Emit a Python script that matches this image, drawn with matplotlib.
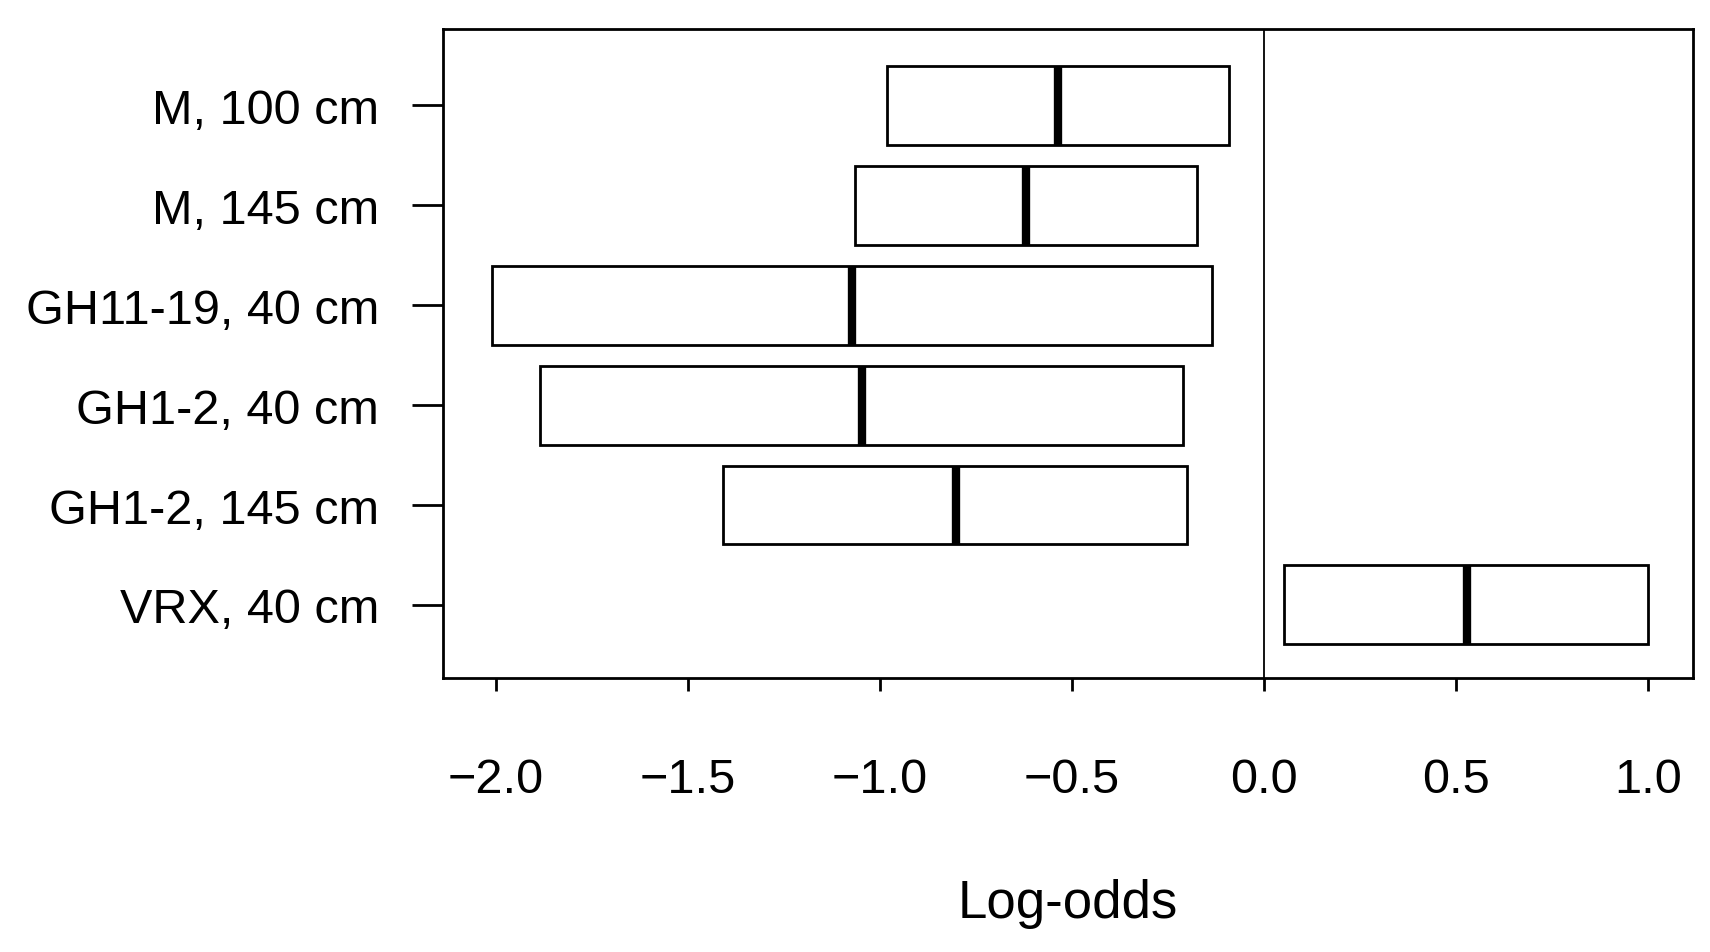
import matplotlib
matplotlib.use("Agg")
import matplotlib.pyplot as plt

plt.rcParams['font.family'] = ['Liberation Sans', 'DejaVu Sans']

labels = ["M, 100 cm", "M, 145 cm", "GH11-19, 40 cm", "GH1-2, 40 cm", "GH1-2, 145 cm", "VRX, 40 cm"]
low = [-0.981, -1.064, -2.009, -1.883, -1.407, 0.053]
mid = [-0.537, -0.620, -1.072, -1.047, -0.800, 0.528]
high = [-0.090, -0.173, -0.136, -0.211, -0.199, 1.000]
xticks = [-2.0, -1.5, -1.0, -0.5, 0.0, 0.5, 1.0]

fig = plt.figure(figsize=(17.1, 9.53), dpi=100)
ax = fig.add_axes([0.259, 0.288, 0.731, 0.68])

n = len(labels)
ypos = [n - i for i in range(n)]
h = 0.79
for y, lo, m, hi in zip(ypos, low, mid, high):
    ax.add_patch(plt.Rectangle((lo, y - h / 2), hi - lo, h, fill=False, lw=2, ec="black"))
    ax.plot([m, m], [y - h / 2, y + h / 2], color="black", lw=6, solid_capstyle="butt")

ax.axvline(0, color="black", lw=1.3)
ax.set_xlim(-2.137, 1.117)
ax.set_ylim(0.273, 6.76)
ax.set_yticks(ypos)
ax.set_yticklabels(labels)
ax.set_xticks(xticks)
ax.set_xticklabels([("%.1f" % v).replace("-", "\u2212") for v in xticks])
ax.tick_params(axis="y", length=22, width=2, pad=24, labelsize=35)
ax.tick_params(axis="x", length=9, width=2, pad=48, labelsize=35)
for s in ax.spines.values():
    s.set_linewidth(2)
ax.set_xlabel("Log-odds", fontsize=38, labelpad=55)

fig.savefig("out.png", dpi=100)
